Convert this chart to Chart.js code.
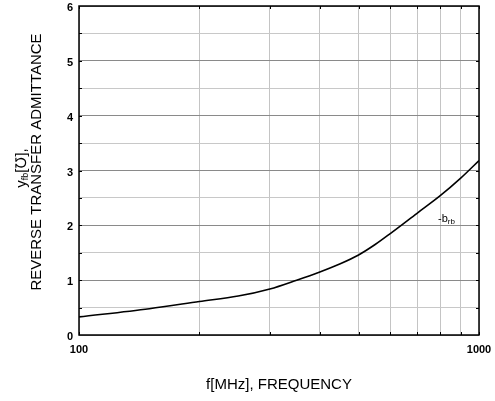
<!DOCTYPE html>
<html>
<head>
<meta charset="utf-8">
<script src="https://cdn.jsdelivr.net/npm/chart.js@4.4.0/dist/chart.umd.min.js"></script>
<style>
  html, body { margin: 0; padding: 0; background: #fff; }
  #wrap { width: 495px; height: 401px; }
</style>
</head>
<body>
<div id="wrap"><canvas id="myChart" width="495" height="401"></canvas></div>
<script>
// f [MHz] and -b_rb
const freqs = [100, 150, 200, 250, 300, 350, 400, 450, 500, 550, 600, 700, 800, 900, 1000];
const brb   = [0.33, 0.48, 0.61, 0.71, 0.84, 1.0, 1.15, 1.30, 1.46, 1.65, 1.85, 2.22, 2.54, 2.86, 3.18];
const xGrid = [100, 200, 300, 400, 500, 600, 700, 800, 900, 1000];
const xLabels = [100, 1000];
const curveLabel = { x: 790, y: 2.11, main: '-b', sub: 'rb' };

const FONT = '"Liberation Sans", Arial, sans-serif';

const ctx = document.getElementById('myChart').getContext('2d');

function noPad(s) {
  s.paddingTop = 0; s.paddingBottom = 0; s.paddingLeft = 0; s.paddingRight = 0;
}

// frame, inner tick marks, axis titles and curve label
const decor = {
  id: 'decor',
  afterDraw(chart) {
    const c = chart.ctx, a = chart.chartArea;
    const xs = chart.scales.x, ys = chart.scales.y;
    c.save();
    c.strokeStyle = '#000';
    c.lineWidth = 1.5;
    c.strokeRect(a.left, a.top, a.right - a.left, a.bottom - a.top);

    c.lineWidth = 1;
    c.beginPath();
    xGrid.forEach(v => {
      const px = Math.round(xs.getPixelForValue(v)) + 0.5;
      c.moveTo(px, a.top); c.lineTo(px, a.top + 3);
      c.moveTo(px, a.bottom); c.lineTo(px, a.bottom - 3);
    });
    for (let v = 0.5; v < 6; v += 0.5) {
      const py = Math.round(ys.getPixelForValue(v)) + 0.5;
      c.moveTo(a.left, py); c.lineTo(a.left + 3, py);
      c.moveTo(a.right, py); c.lineTo(a.right - 3, py);
    }
    c.stroke();

    c.fillStyle = '#000';
    // x title
    c.font = '15px ' + FONT;
    c.textAlign = 'center';
    c.textBaseline = 'middle';
    c.fillText('f[MHz], FREQUENCY', (a.left + a.right) / 2, 385);

    // y title, two lines rotated
    c.save();
    c.translate(37, 162);
    c.rotate(-Math.PI / 2);
    c.fillText('REVERSE TRANSFER ADMITTANCE', 0, 0);
    c.restore();

    c.save();
    c.translate(22, 168);
    c.rotate(-Math.PI / 2);
    const parts = [
      { t: 'y', f: '15px ' + FONT, dy: 0 },
      { t: 'fb', f: '9px ' + FONT, dy: 4 },
      { t: '[\u2127],', f: '15px ' + FONT, dy: 0 }
    ];
    let total = 0;
    parts.forEach(p => { c.font = p.f; p.w = c.measureText(p.t).width; total += p.w; });
    let x0 = -total / 2;
    c.textAlign = 'left';
    parts.forEach(p => { c.font = p.f; c.fillText(p.t, x0, p.dy); x0 += p.w; });
    c.restore();

    // curve label -b_rb
    const lx = xs.getPixelForValue(curveLabel.x);
    const ly = ys.getPixelForValue(curveLabel.y);
    c.textAlign = 'left';
    c.font = '11px ' + FONT;
    c.fillText(curveLabel.main, lx, ly);
    const w = c.measureText(curveLabel.main).width;
    c.font = '8px ' + FONT;
    c.fillText(curveLabel.sub, lx + w, ly + 2);
    c.restore();
  }
};

new Chart(ctx, {
  type: 'line',
  data: {
    datasets: [{
      data: freqs.map((f, i) => ({ x: f, y: brb[i] })),
      borderColor: '#000',
      borderWidth: 1.6,
      pointRadius: 0,
      fill: false,
      cubicInterpolationMode: 'monotone'
    }]
  },
  options: {
    responsive: false,
    animation: false,
    layout: { padding: { left: 0, top: 6, right: 16, bottom: 0 } },
    plugins: {
      legend: { display: false },
      tooltip: { enabled: false }
    },
    scales: {
      x: {
        type: 'logarithmic',
        min: 100,
        max: 1000,
        afterBuildTicks: s => { s.ticks = xGrid.map(v => ({ value: v })); },
        afterFit: s => { s.height = 66; noPad(s); },
        border: { display: false },
        grid: { color: '#c4c4c4', lineWidth: 1, drawTicks: false },
        ticks: {
          autoSkip: false,
          maxRotation: 0,
          padding: 8,
          color: '#000',
          font: { family: FONT, size: 11, weight: 'bold' },
          callback: v => xLabels.includes(v) ? String(v) : ''
        }
      },
      y: {
        min: 0,
        max: 6,
        afterFit: s => { s.width = 79; noPad(s); },
        border: { display: false },
        grid: {
          drawTicks: false,
          lineWidth: 1,
          color: c => (c.tick && Number.isInteger(c.tick.value)) ? '#8a8a8a' : '#c8c8c8'
        },
        ticks: {
          stepSize: 0.5,
          autoSkip: false,
          padding: 6,
          labelOffset: 2,
          color: '#000',
          font: { family: FONT, size: 11, weight: 'bold' },
          callback: v => Number.isInteger(v) ? String(v) : ''
        }
      }
    }
  },
  plugins: [decor]
});
</script>
</body>
</html>
